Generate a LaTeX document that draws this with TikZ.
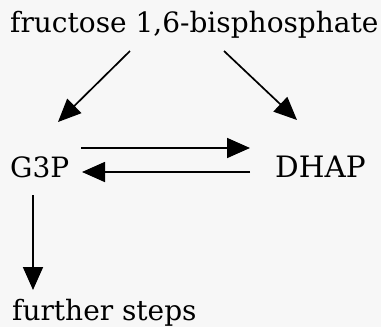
\documentclass[tikz,border=0pt]{standalone}
\usepackage{fontspec}
\setmainfont{DejaVu Serif}
\usetikzlibrary{arrows.meta}
\begin{document}
\begin{tikzpicture}[x=1pt,y=-1pt,
  lbl/.style={inner sep=0pt,anchor=base west,font=\fontsize{28}{32}\selectfont},
  flow/.style={line width=1.7pt,-{Triangle[length=23pt,width=20pt]}}]
  \useasboundingbox (0,0) rectangle (381,327);
  \fill[white!97!black] (0,0) rectangle (381,327);
  % labels
  \node[lbl] (fbp) at (10,32) {fructose 1,6-bisphosphate};
  \node[lbl] (g3p) at (10,177) {G3P};
  \node[lbl,font=\fontsize{29.5}{32}\selectfont] (dhap) at (275,177) {DHAP};
  \node[lbl] (fs) at (12,320) {further steps};
  % arrow end points
  \coordinate (fbpL) at (130,51);
  \coordinate (fbpR) at (224,51);
  \coordinate (g3pTop) at (58,122);
  \coordinate (dhapTop) at (297,120);
  \coordinate (g3pFwd) at (81,148);
  \coordinate (dhapFwd) at (250,148);
  \coordinate (dhapBack) at (250,172);
  \coordinate (g3pBack) at (82,172);
  \coordinate (g3pDown) at (33,195);
  \coordinate (fsTop) at (33,290);
  % arrows
  \draw[flow] (fbpL) -- (g3pTop);
  \draw[flow] (fbpR) -- (dhapTop);
  \draw[flow] (g3pFwd) -- (dhapFwd);
  \draw[flow] (dhapBack) -- (g3pBack);
  \draw[flow] (g3pDown) -- (fsTop);
\end{tikzpicture}
\end{document}
